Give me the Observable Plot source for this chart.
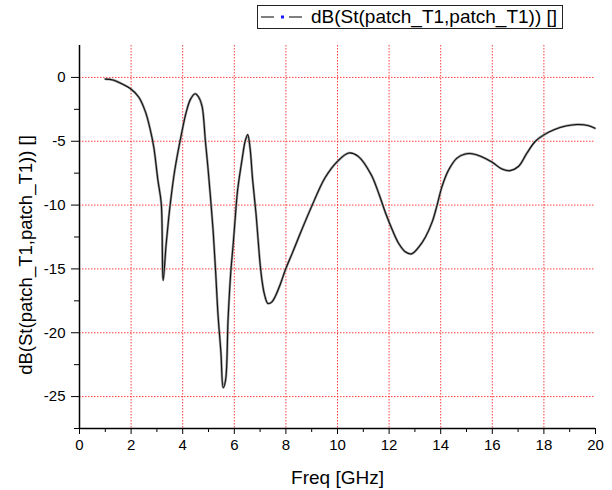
<!DOCTYPE html>
<html><head><meta charset="utf-8">
<script src="https://cdn.jsdelivr.net/npm/d3@7"></script>
<script src="https://cdn.jsdelivr.net/npm/@observablehq/plot@0.6"></script>
<style>
body{margin:0;background:#fff;font-family:"Liberation Sans",Arial,sans-serif;}
#wrap{position:relative;width:612px;height:490px;}
#legend{position:absolute;left:257px;top:5px;width:306px;height:24px;border:1.5px solid #222;background:#fff;display:flex;align-items:center;font-size:19px;color:#000;box-sizing:border-box;white-space:nowrap;}
#legend svg{margin-left:2px;margin-right:7px;}
</style></head>
<body>
<div id="wrap">
<div id="legend"><svg width="44" height="10"><line x1="1" y1="5" x2="14" y2="5" stroke="#555" stroke-width="1.5"/><rect x="21" y="3.5" width="3" height="3" fill="#1a1aff"/><line x1="29" y1="5" x2="42" y2="5" stroke="#555" stroke-width="1.5"/></svg><span id="legtext"></span></div>
</div>
<script>
const seriesName = "dB(St(patch_T1,patch_T1)) []";
const xLabel = "Freq [GHz]";
const freq = [1.0,1.3,1.59,1.98,2.3,2.56,2.75,2.88,3.04,3.17,3.24,3.36,3.46,3.55,3.69,3.97,4.13,4.3,4.48,4.61,4.75,4.88,4.98,5.08,5.19,5.28,5.37,5.48,5.57,5.66,5.76,5.86,5.96,6.05,6.13,6.31,6.42,6.52,6.61,6.71,6.84,6.93,7.0,7.08,7.17,7.3,7.45,7.6,7.79,7.98,8.24,8.5,9.0,9.51,10.0,10.44,10.8,11.3,11.62,11.87,12.13,12.38,12.64,12.87,13.15,13.41,13.67,13.86,14.05,14.31,14.63,14.95,15.21,15.55,16.0,16.37,16.69,17.02,17.35,17.67,18.0,18.39,18.85,19.3,19.7,19.98];
const s11 = [-0.13,-0.2,-0.45,-0.89,-1.55,-2.72,-4.16,-5.47,-8.07,-9.9,-15.9,-13.03,-10.95,-9.38,-7.29,-4.25,-2.77,-1.72,-1.28,-1.51,-2.25,-5.0,-7.1,-9.46,-12.34,-15.35,-18.63,-21.51,-24.3,-23.74,-18.89,-15.35,-12.99,-10.64,-8.8,-6.31,-5.0,-4.48,-5.52,-8.01,-10.64,-12.9,-14.6,-16.0,-17.0,-17.7,-17.6,-17.1,-16.16,-15.07,-13.8,-12.5,-10.1,-7.88,-6.57,-5.92,-6.18,-7.6,-9.21,-10.66,-11.97,-13.03,-13.68,-13.82,-13.29,-12.5,-11.32,-10.0,-8.55,-7.24,-6.32,-6.0,-5.98,-6.18,-6.65,-7.17,-7.3,-6.96,-5.9,-5.0,-4.5,-4.1,-3.8,-3.69,-3.76,-3.98];
const xTicks = [0,2,4,6,8,10,12,14,16,18,20];
const xMinor = [1,3,5,7,9,11,13,15,17,19];
const yTicks = [0,-5,-10,-15,-20,-25];
const yMinor = [-2.5,-7.5,-12.5,-17.5,-22.5,-27.5];

document.getElementById("legtext").textContent = seriesName;
const data = freq.map((f,i)=>({f, v:s11[i]}));
const font = "'Liberation Sans', Arial, sans-serif";

const chart = Plot.plot({
  width: 612, height: 490,
  marginLeft: 79, marginRight: 17, marginTop: 45, marginBottom: 62,
  style: {fontFamily: font, fontSize: "15px", background: "white", color: "#000"},
  x: {domain: [0,20]},
  y: {domain: [-27.5, 2.5]},
  marks: [
    Plot.gridX(xTicks.filter(d=>d>0&&d<20), {stroke:"#ff2020", strokeOpacity:0.85, strokeDasharray:"1.5,1.5", strokeWidth:1}),
    Plot.gridY(yTicks, {stroke:"#ff2020", strokeOpacity:0.85, strokeDasharray:"1.5,1.5", strokeWidth:1}),
    Plot.axisX(xTicks, {tickSize:6, tickPadding:5, fontSize:15, label:null, tickFormat:d=>String(d)}),
    Plot.axisX(xMinor, {tickSize:4, tickFormat:()=> "", label:null}),
    Plot.axisY(yTicks, {tickSize:8, tickPadding:6, fontSize:15, label:null, tickFormat:d=>d<0?"-"+Math.abs(d):String(d)}),
    Plot.axisY(yMinor, {tickSize:5, tickFormat:()=> "", label:null}),
    Plot.ruleX([0], {stroke:"#000", strokeWidth:1.5}),
    Plot.ruleY([-27.5], {stroke:"#000", strokeWidth:1.5}),
    Plot.line(data, {x:"f", y:"v", stroke:"#999", strokeWidth:2.4, curve:"catmull-rom"}),
    Plot.line(data, {x:"f", y:"v", stroke:"#111", strokeWidth:1.1, curve:"catmull-rom"}),
    Plot.text([seriesName], {frameAnchor:"left", dx:-53, dy:18, rotate:-90, fontSize:18.5, textAnchor:"middle"}),
    Plot.text([xLabel], {frameAnchor:"bottom", dy:55, fontSize:19, textAnchor:"middle", lineAnchor:"bottom"})
  ]
});
document.getElementById("wrap").prepend(chart);
</script>
</body></html>
